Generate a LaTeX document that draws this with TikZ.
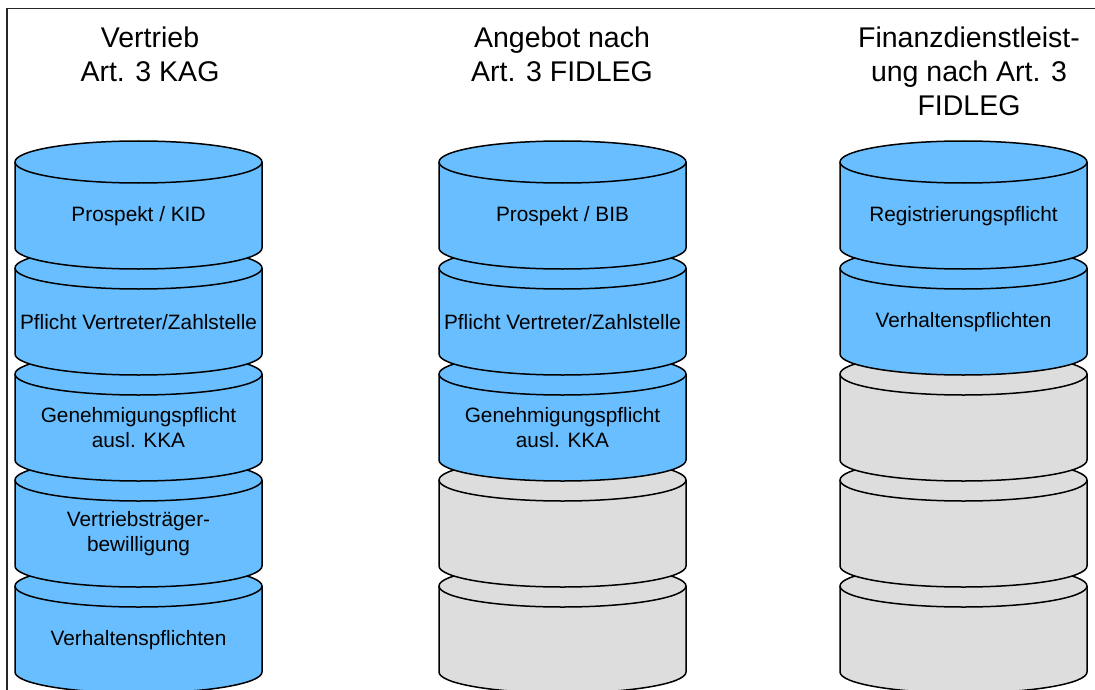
\documentclass[tikz,border=0pt]{standalone}
\usepackage{fontspec}
\setmainfont{Liberation Sans}
\definecolor{segblue}{RGB}{104,190,255}
\definecolor{seggray}{RGB}{221,221,221}
\tikzset{
  segline/.style={draw=black,line width=1.5pt,line join=round},
  segtext/.style={font=\fontsize{20.8}{25}\selectfont,align=center,inner sep=0pt},
  titletext/.style={font=\fontsize{28.5}{34}\selectfont,align=center,inner sep=0pt},
  frameline/.style={draw=black!85,line width=1.8pt},
}
\newcommand\cylseg[3]{%
  \path[segline,fill=#3] ({#1-123.5},{-#2}) arc[start angle=180,end angle=0,x radius=123.5,y radius=21]
    -- ({#1+123.5},{-#2-86}) arc[start angle=0,end angle=-180,x radius=123.5,y radius=21] -- cycle;
  \draw[segline] ({#1-123.5},{-#2}) arc[start angle=180,end angle=360,x radius=123.5,y radius=21];
}
\begin{document}
\begin{tikzpicture}[x=1pt,y=1pt]
\useasboundingbox (0,0) rectangle (1095,-690);
\draw[frameline] (7,-690) -- (7,-8.5) -- (1095,-8.5);
% column 1
\cylseg{138.5}{586}{segblue}
\cylseg{138.5}{480}{segblue}
\cylseg{138.5}{374}{segblue}
\cylseg{138.5}{268}{segblue}
\cylseg{138.5}{162}{segblue}
% column 2
\cylseg{562.5}{586}{seggray}
\cylseg{562.5}{480}{seggray}
\cylseg{562.5}{374}{segblue}
\cylseg{562.5}{268}{segblue}
\cylseg{562.5}{162}{segblue}
% column 3
\cylseg{963.5}{586}{seggray}
\cylseg{963.5}{480}{seggray}
\cylseg{963.5}{374}{seggray}
\cylseg{963.5}{268}{segblue}
\cylseg{963.5}{162}{segblue}
% titles (base anchor = baseline of last line)
\node[titletext,anchor=base] (t1) at (150,-82) {Vertrieb\\Art. 3 KAG};
\node[titletext,anchor=base] (t2) at (562,-82) {Angebot nach\\Art. 3 FIDLEG};
\node[titletext,anchor=base] (t3) at (969,-116) {Finanzdienstleist-\\ung nach Art. 3\\FIDLEG};
% texts column 1
\node[segtext] (a1) at (138.5,-216.5) {Prospekt / KID};
\node[segtext] (a2) at (138.5,-322) {Pflicht Vertreter/Zahlstelle};
\node[segtext] (a3) at (138.5,-427.5) {Genehmigungspflicht\\ausl. KKA};
\node[segtext] (a4) at (138.5,-533.5) {Vertriebsträger-\\bewilligung};
\node[segtext] (a5) at (138.5,-640.5) {Verhaltenspflichten};
% texts column 2
\node[segtext] (b1) at (562.5,-216.5) {Prospekt / BIB};
\node[segtext] (b2) at (562.5,-322) {Pflicht Vertreter/Zahlstelle};
\node[segtext] (b3) at (562.5,-427.5) {Genehmigungspflicht\\ausl. KKA};
% texts column 3
\node[segtext] (c1) at (963.5,-216.5) {Registrierungspflicht};
\node[segtext] (c2) at (963.5,-322.5) {Verhaltenspflichten};
\end{tikzpicture}
\end{document}
